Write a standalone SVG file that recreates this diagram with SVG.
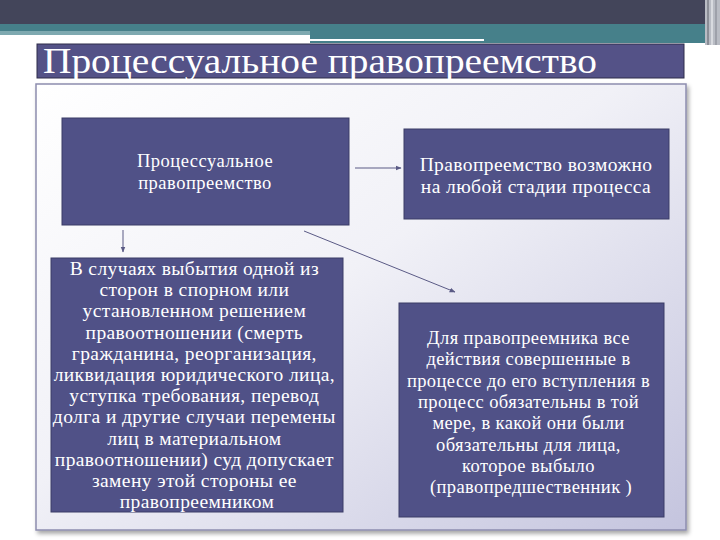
<svg xmlns="http://www.w3.org/2000/svg" width="720" height="540" viewBox="0 0 720 540">
<defs>
<linearGradient id="panel" x1="0" y1="0" x2="1" y2="1">
<stop offset="0" stop-color="#ffffff"/>
<stop offset="0.45" stop-color="#f1f1f7"/>
<stop offset="1" stop-color="#c4c4de"/>
</linearGradient>
<filter id="sh" x="-5%" y="-5%" width="110%" height="110%">
<feDropShadow dx="2" dy="3" stdDeviation="2" flood-color="#000" flood-opacity="0.35"/>
</filter>
<marker id="ah" viewBox="0 0 10 10" refX="9" refY="5" markerWidth="6" markerHeight="6" orient="auto">
<path d="M0,1 L10,5 L0,9 Z" fill="#5a5a85"/>
</marker>
<style>
.box{fill:#505187;stroke:#3b3c66;stroke-width:1}
.t{fill:#ffffff;text-anchor:middle;letter-spacing:0.4px}
.c{stroke:#5a5a85;stroke-width:1;fill:none;marker-end:url(#ah)}
</style>
</defs>
<rect width="720" height="540" fill="#ffffff"/>
<rect x="0" y="0" width="720" height="24" fill="#43455a"/>
<rect x="0" y="24" width="720" height="7" fill="#46808a"/>
<rect x="0" y="31" width="310" height="4" fill="#7ea9b0"/>
<rect x="310" y="31" width="395" height="12" fill="#46808a"/>
<rect x="310" y="39" width="174" height="2" fill="#ffffff"/>
<rect x="705" y="0" width="15" height="45" fill="#b9bcc4"/>
<rect x="707" y="0" width="2" height="45" fill="#8a8d96"/>
<rect x="711" y="0" width="2" height="45" fill="#d8dadf"/>
<rect x="715" y="0" width="2" height="45" fill="#9ea1aa"/>
<g id="title">
<rect x="37" y="44" width="647" height="34" fill="#545287" stroke="#2e2d4a" stroke-width="1"/>
<text x="43" y="73" font-family="Liberation Serif,serif" font-size="35" fill="#ffffff" textLength="554" lengthAdjust="spacingAndGlyphs">Процессуальное правопреемство</text>
</g>
<rect x="36" y="84" width="650" height="446" fill="url(#panel)" stroke="#8d8daf" stroke-width="1.5" filter="url(#sh)"/>
<g id="connectors">
<line class="c" x1="355" y1="168" x2="401" y2="168"/>
<line class="c" x1="123" y1="230" x2="123" y2="252"/>
<line class="c" x1="304" y1="231" x2="455" y2="292"/>
</g>
<g id="n1">
<rect class="box" x="62" y="118" width="287" height="107"/>
<text class="t" font-family="Liberation Serif,serif" font-size="18.5" style="letter-spacing:0.5px"><tspan x="205" y="167">Процессуальное</tspan><tspan x="205" y="189">правопреемство</tspan></text>
</g>
<g id="n2">
<rect class="box" x="404" y="129" width="265" height="90"/>
<text class="t" font-family="Liberation Serif,serif" font-size="19.5"><tspan x="536" y="171">Правопреемство возможно</tspan><tspan x="536" y="193">на любой стадии процесса</tspan></text>
</g>
<g id="n3">
<rect class="box" x="51" y="258" width="292" height="254"/>
<text class="t" font-family="Liberation Serif,serif" font-size="19.5">
<tspan x="197" y="275">В случаях выбытия одной из</tspan>
<tspan x="197" y="296.2">сторон в спорном или</tspan>
<tspan x="197" y="317.4">установленном решением</tspan>
<tspan x="197" y="338.6">правоотношении (смерть</tspan>
<tspan x="197" y="359.8">гражданина, реорганизация,</tspan>
<tspan x="197" y="381">ликвидация юридического лица,</tspan>
<tspan x="197" y="402.2">уступка требования, перевод</tspan>
<tspan x="197" y="423.4">долга и другие случаи перемены</tspan>
<tspan x="197" y="444.6">лиц в материальном</tspan>
<tspan x="197" y="465.8">правоотношении) суд допускает</tspan>
<tspan x="197" y="487">замену этой стороны ее</tspan>
<tspan x="197" y="508.2">правопреемником</tspan>
</text>
</g>
<g id="n4">
<rect class="box" x="399" y="303" width="265" height="214"/>
<text class="t" font-family="Liberation Serif,serif" font-size="18.5">
<tspan x="531" y="344">Для правопреемника все</tspan>
<tspan x="531" y="365.3">действия совершенные в</tspan>
<tspan x="531" y="386.6">процессе до его вступления в</tspan>
<tspan x="531" y="407.9">процесс обязательны в той</tspan>
<tspan x="531" y="429.2">мере, в какой они были</tspan>
<tspan x="531" y="450.5">обязательны для лица,</tspan>
<tspan x="531" y="471.8">которое выбыло</tspan>
<tspan x="531" y="493">(правопредшественник )</tspan>
</text>
</g>
</svg>
